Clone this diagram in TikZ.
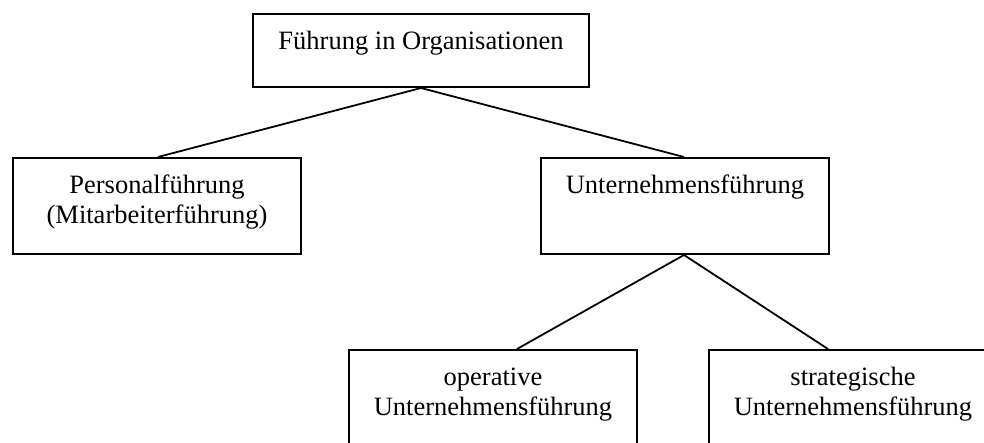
\documentclass[tikz,border=0pt]{standalone}
\usepackage{fontspec}
\setmainfont{Liberation Serif}
\begin{document}
\begin{tikzpicture}[x=1pt,y=-1pt,
  box/.style={draw, line width=2pt, rectangle, inner sep=0pt, anchor=north west},
  label text/.style={font=\fontsize{26.5}{30.5}\selectfont, align=center, inner sep=0pt, anchor=north},
  link/.style={line width=1.8pt}]
  \useasboundingbox (0,0) rectangle (984,442);
  \begin{scope}
  \clip (0,0) rectangle (984,442);
  % boxes of the hierarchy
  \node[box, minimum width=336pt, minimum height=73pt] (root) at (252,13) {};
  \node[box, minimum width=288pt, minimum height=96pt] (pers) at (12,157) {};
  \node[box, minimum width=288pt, minimum height=96pt] (unt) at (540,157) {};
  \node[box, minimum width=288pt, minimum height=110pt] (oper) at (348,349) {};
  \node[box, minimum width=288pt, minimum height=110pt] (strat) at (708,349) {};
  % captions, set at the top of each box
  \node[label text] (troot) at ([yshift=-14.6pt]root.north) {\strut Führung in Organisationen};
  \node[label text] (tpers) at ([yshift=-14.6pt]pers.north) {\strut Personalführung\\(Mitarbeiterführung)};
  \node[label text] (tunt) at ([yshift=-14.6pt]unt.north) {\strut Unternehmensführung};
  \node[label text] (toper) at ([yshift=-14.6pt]oper.north) {\strut operative\\Unternehmensführung};
  \node[label text] (tstrat) at ([yshift=-14.6pt]strat.north) {\strut strategische\\Unternehmensführung};
  % connectors
  \draw[link] (root.south) -- ([xshift=1pt]pers.north);
  \draw[link] (root.south) -- ([xshift=-1pt]unt.north);
  \draw[link] ([xshift=-1pt]unt.south) -- ([xshift=169pt]oper.north west);
  \draw[link] ([xshift=-1pt]unt.south) -- ([xshift=120pt]strat.north west);
  \end{scope}
\end{tikzpicture}
\end{document}
